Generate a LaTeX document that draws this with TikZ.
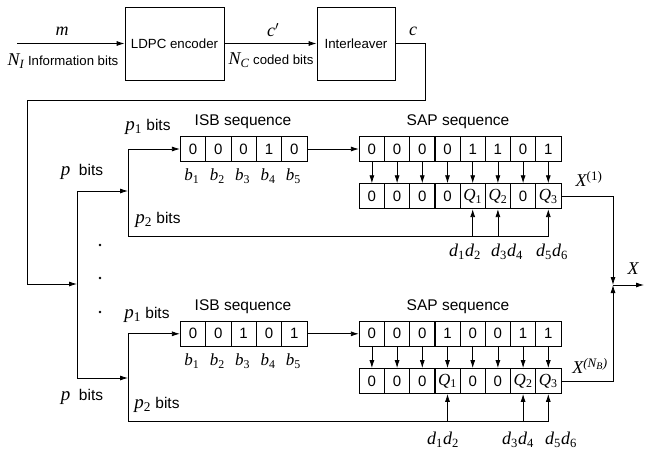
\RequirePackage{fix-cm}
\documentclass[tikz,border=0pt]{standalone}
\usepackage{fontspec}
\setmainfont{Liberation Sans}
\newfontfamily\tms{Liberation Serif}
\usetikzlibrary{arrows.meta}
\newcommand{\V}[2]{{\fontsize{#1}{#1}\selectfont\tms\itshape #2}}
\newcommand{\sub}[1]{\textsubscript{\upshape #1}}
\newcommand{\isub}[1]{\textsubscript{#1}}
\begin{document}
\begin{tikzpicture}[x=1pt,y=-1pt,
  line width=0.8pt,
  >={Latex[length=8pt,width=5pt]},
  blk/.style={draw, minimum height=73pt, inner sep=0pt, font=\fontsize{13.3}{15}\selectfont},
  cell/.style={draw, minimum width=25.3pt, minimum height=25pt, inner sep=0pt, font=\fontsize{15}{15}\selectfont},
  txt/.style={inner sep=0pt, font=\fontsize{13.2}{15}\selectfont},
  lbl/.style={inner sep=0pt, font=\fontsize{15.5}{17}\selectfont},
  vr/.style={inner sep=0pt, font=\fontsize{18}{20}\selectfont\tms\itshape},
]
\useasboundingbox (0,0) rectangle (646,453);

% top blocks
\node[blk, minimum width=99pt] (ldpc) at (174.5,43.5) {LDPC encoder};
\node[blk, minimum width=78pt] (intl) at (356,43.5) {Interleaver};
\coordinate (in) at (17,43.5);
\draw[->] (in) -- (ldpc);
\draw[->] (ldpc) -- (intl);
\node[vr] (lm) at (62,31) {m};
\node[txt] (lni) at (63,61) {\V{18}{N\isub{I}} Information bits};
\node[vr] (lcp) at (273,30) {c$'$};
\node[txt] (lnc) at (271,60) {\V{18}{N\isub{C}} coded bits};
\node[vr] (lc) at (413,31) {c};

% feedback to splitter
\coordinate (t1) at (425,100);
\coordinate (t2) at (27,100);
\coordinate (split) at (77,284);
\draw[->] (intl.east) -| (t1) -- (t2) |- (split);
\coordinate (pa) at (77,191);
\coordinate (pb) at (77,378);
\draw (pa) -- (pb);
\coordinate (qa) at (128,191);
\coordinate (qb) at (128,378);
\draw[->] (pa) -- (qa);
\draw[->] (pb) -- (qb);

% dots
\fill (100,245) circle (1.3);
\fill (100,278) circle (1.3);
\fill (100,312) circle (1.3);

% ---------- top branch ----------
\foreach \v [count=\i] in {0,0,0,1,0}
  \node[cell] (ia\i) at ({180.3+25.34*(\i-0.5)},149) {\v};
\foreach \v [count=\i] in {0,0,0,0,1,1,0,1}
  \node[cell] (sa\i) at ({359.3+25.2*(\i-0.5)},149) {\v};
\foreach \v [count=\i] in {0,0,0,0,\V{17}{Q\sub{1}},\V{17}{Q\sub{2}},0,\V{17}{Q\sub{3}}}
  \node[cell] (qa\i) at ({359.3+25.2*(\i-0.5)},196.2) {\v};
\foreach \i in {1,...,5}
  \node[vr, font=\fontsize{17}{18}\selectfont\tms\itshape] (ba\i) at ({180.3+25.34*(\i-0.5)-1},176) {b\sub{\i}};
\foreach \i in {1,...,8}
  \draw[->] (sa\i.south) -- (qa\i.north);
\draw[->] (ia5.east) -- (sa1.west);
\coordinate (ua) at (128,149);
\coordinate (ub) at (128,236.7);
\draw (ua) -- (ub);
\draw[->] (ua) -- (ia1.west);
\draw[->] (ub) -| (qa8.south);
\draw[->] (qa5.south |- ub) -- (qa5.south);
\draw[->] (qa6.south |- ub) -- (qa6.south);
\node[lbl] (isa) at (243,122) {ISB sequence};
\node[lbl] (ssa) at (458,122) {SAP sequence};
\node[lbl] (p1a) at (148,127) {\V{19}{p\sub{1}} bits};
\node[lbl] (pa0) at (82,172) {\V{19}{p}\ \ bits};
\node[lbl] (p2a) at (158,220) {\V{19}{p\sub{2}} bits};
\node[vr] (da1) at (465,252) {d\sub{1}d\sub{2}};
\node[vr] (da2) at (507,252) {d\sub{3}d\sub{4}};
\node[vr] (da3) at (552,252) {d\sub{5}d\sub{6}};
\node[vr] (xa) at (589,179) {X\textsuperscript{\fontsize{13}{13}\selectfont\upshape (1)}};

% ---------- bottom branch ----------
\foreach \v [count=\i] in {0,0,1,0,1}
  \node[cell] (ib\i) at ({180.3+25.34*(\i-0.5)},333.8) {\v};
\foreach \v [count=\i] in {0,0,0,1,0,0,1,1}
  \node[cell] (sb\i) at ({359.3+25.2*(\i-0.5)},333.8) {\v};
\foreach \v [count=\i] in {0,0,0,\V{17}{Q\sub{1}},0,0,\V{17}{Q\sub{2}},\V{17}{Q\sub{3}}}
  \node[cell] (qb\i) at ({359.3+25.2*(\i-0.5)},381) {\v};
\foreach \i in {1,...,5}
  \node[vr, font=\fontsize{17}{18}\selectfont\tms\itshape] (bb\i) at ({180.3+25.34*(\i-0.5)-1},361) {b\sub{\i}};
\foreach \i in {1,...,8}
  \draw[->] (sb\i.south) -- (qb\i.north);
\draw[->] (ib5.east) -- (sb1.west);
\coordinate (va) at (128,333.8);
\coordinate (vb) at (128,421.7);
\draw (va) -- (vb);
\draw[->] (va) -- (ib1.west);
\draw[->] (vb) -| (qb8.south);
\draw[->] (qb4.south |- vb) -- (qb4.south);
\draw[->] (qb7.south |- vb) -- (qb7.south);
\node[lbl] (isb) at (243,307) {ISB sequence};
\node[lbl] (ssb) at (458,307) {SAP sequence};
\node[lbl] (p1b) at (147,315) {\V{19}{p\sub{1}} bits};
\node[lbl] (pb0) at (82,397) {\V{19}{p}\ \ bits};
\node[lbl] (p2b) at (157,405) {\V{19}{p\sub{2}} bits};
\node[vr] (db1) at (443,440) {d\sub{1}d\sub{2}};
\node[vr] (db2) at (518,440) {d\sub{3}d\sub{4}};
\node[vr] (db3) at (561,440) {d\sub{5}d\sub{6}};
\node[vr] (xb) at (590,366) {X\textsuperscript{\fontsize{13}{13}\selectfont(N\textsubscript{\fontsize{10}{10}\selectfont B})}};

% ---------- combiner ----------
\coordinate (jn) at (613,285);
\coordinate (out) at (644,285);
\draw[->] (qa8.east) -| (jn);
\draw[->] (qb8.east) -| (jn);
\draw[->] (jn) -- (out);
\node[vr] (xo) at (633,269) {X};
\end{tikzpicture}
\end{document}
